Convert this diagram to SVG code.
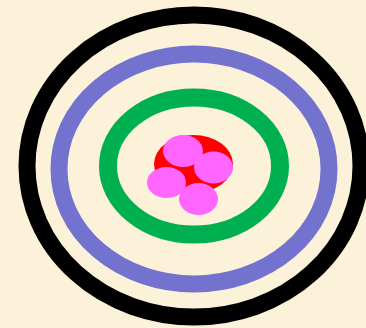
<svg xmlns="http://www.w3.org/2000/svg" width="366" height="328" viewBox="0 0 366 328">
<style>
.ring{fill:none}
.pink{fill:#ff66ff}
</style>
<rect width="366" height="328" fill="#fcf2da"/>
<g id="ring-black"><ellipse class="ring" cx="194" cy="166" rx="167" ry="151" stroke="#000000" stroke-width="17"/></g>
<g id="ring-blue"><ellipse class="ring" cx="194" cy="169" rx="135" ry="115" stroke="#7373cf" stroke-width="17"/></g>
<g id="ring-green"><ellipse class="ring" cx="194" cy="166" rx="86" ry="68.5" stroke="#00b050" stroke-width="18"/></g>
<g id="core">
<ellipse cx="193.5" cy="164" rx="39.5" ry="29" fill="#ff0000"/>
<ellipse class="pink" cx="183" cy="151" rx="20" ry="16"/>
<ellipse class="pink" cx="213.5" cy="167.5" rx="19.5" ry="16"/>
<ellipse class="pink" cx="166.5" cy="182.5" rx="19.5" ry="15.5"/>
<ellipse class="pink" cx="198.5" cy="199" rx="19.5" ry="16"/>
</g>
</svg>
